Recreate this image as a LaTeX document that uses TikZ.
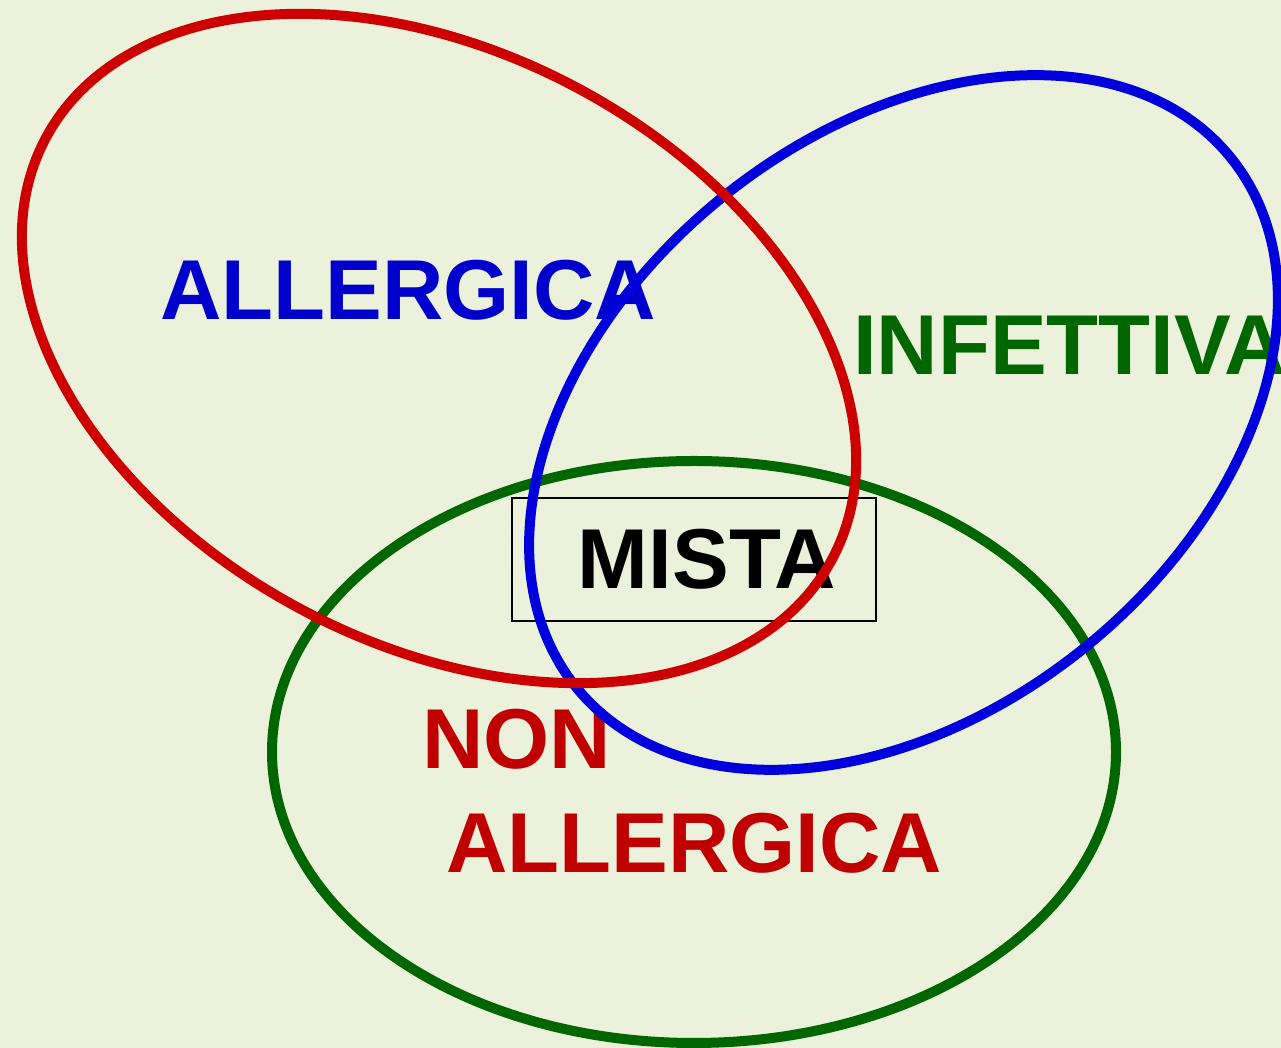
\documentclass[tikz,border=0pt]{standalone}
\usepackage{fontspec}
\setmainfont{Liberation Sans}
\usepackage{xcolor}
\definecolor{paper}{RGB}{236,241,219}
\definecolor{ringred}{RGB}{204,0,0}
\definecolor{ringblue}{RGB}{0,0,221}
\definecolor{ringgreen}{RGB}{0,102,0}
\definecolor{textred}{RGB}{192,0,0}
\definecolor{textblue}{RGB}{0,0,204}

\begin{document}
\begin{tikzpicture}[
    x=0.75pt, y=0.75pt,
    ring/.style={line width=7.5pt},
    tag/.style={inner sep=0pt, anchor=base west,
                font=\fontsize{63.75}{76}\selectfont\bfseries},
    framed/.style={draw=black, line width=1pt, inner sep=0pt,
                   minimum width=273pt, minimum height=92.25pt,
                   font=\fontsize{63.75}{76}\selectfont\bfseries}
]
\clip (0,0) rectangle (1281,1048);
\fill[paper] (0,0) rectangle (1281,1048);

% labels
\node[tag, text=textblue] (allergica) at (160,728) {ALLERGICA};
\node[tag, text=ringgreen] (infettiva) at (853,673) {INFETTIVA};
\node[framed] (mista) at (694,488.5) {\hspace*{19.5pt}MISTA};
\node[tag, text=textred] (non) at (422,279) {NON};
\node[tag, text=textred] (nonallergica) at (446,175) {ALLERGICA};

% the three sets
\draw[ring, ringgreen] (694,296) ellipse [x radius=422, y radius=291];
\draw[ring, ringblue] (903.5,625.5) ellipse [x radius=421, y radius=289, rotate=39];
\draw[ring, ringred] (439,699.5) ellipse [x radius=446, y radius=295, rotate=-28.2];
\end{tikzpicture}
\end{document}
